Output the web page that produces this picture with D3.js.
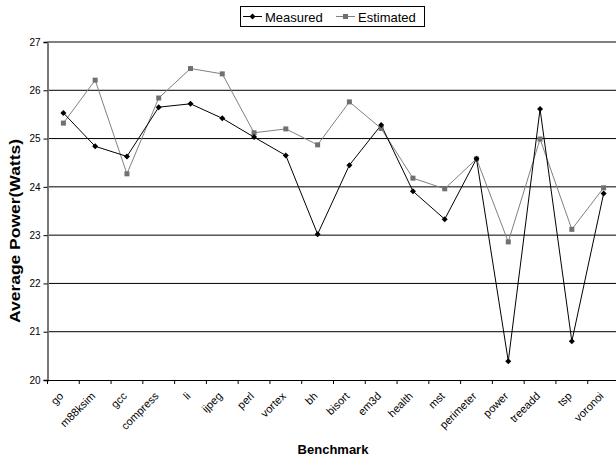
<!DOCTYPE html>
<html><head><meta charset="utf-8">
<script src="https://cdn.jsdelivr.net/npm/d3@7/dist/d3.min.js"></script>
<style>body{margin:0;background:#fff}svg{display:block}text{font-family:Arial,"Liberation Sans",sans-serif}</style>
</head><body><svg id="c" width="616" height="457"></svg>
<script>
const categories = ["go","m88ksim","gcc","compress","li","ijpeg","perl","vortex","bh","bisort","em3d","health","mst","perimeter","power","treeadd","tsp","voronoi"];
const measured = [25.53,24.84,24.63,25.65,25.72,25.42,25.03,24.65,23.02,24.45,25.28,23.91,23.33,24.58,20.39,25.61,20.80,23.86];
const estimated = [25.32,26.21,24.27,25.84,26.45,26.34,25.12,25.20,24.87,25.76,25.21,24.18,23.96,24.58,22.86,24.99,23.12,23.98];
const yTicks = [20,21,22,23,24,25,26,27];

const svg = d3.select("#c");
const L = 47.5, R = 619.5, T = 42, B = 380;
const x = d3.scaleBand().domain(categories).range([L, R]);
const y = d3.scaleLinear().domain([20, 27]).range([B, T]);
const cx = d => x(d) + x.bandwidth() / 2;

// gridlines
svg.append("g").selectAll("line").data(yTicks.filter(t => t > 20)).join("line")
  .attr("x1", L).attr("x2", R).attr("y1", d => y(d)).attr("y2", d => y(d))
  .attr("stroke", "#000").attr("stroke-width", 1);

// y axis
const ya = svg.append("g").attr("transform", `translate(${L},0)`)
  .call(d3.axisLeft(y).tickValues(yTicks).tickSize(4).tickPadding(3).tickFormat(d3.format("d")));
ya.select(".domain").attr("stroke", "#777").attr("stroke-width", 2);
ya.selectAll(".tick line").attr("stroke", "#000");
ya.selectAll("text").attr("font-size", 10).attr("font-family", "Arial").attr("fill", "#000");

// x axis
const xa = svg.append("g").attr("transform", `translate(0,${B})`)
  .call(d3.axisBottom(x).tickSize(0).tickFormat(""));
xa.select(".domain").attr("stroke", "#000").attr("stroke-width", 1);
svg.append("g").selectAll("line").data(categories).join("line")
  .attr("x1", d => x(d)).attr("x2", d => x(d)).attr("y1", B).attr("y2", B + 4)
  .attr("stroke", "#000");
svg.append("g").selectAll("text").data(categories).join("text")
  .attr("transform", d => `translate(${cx(d) - 2},${B + 14}) rotate(-45)`)
  .attr("text-anchor", "end").attr("dy", "0.35em")
  .attr("font-size", 11).text(d => d);

// lines
const line = vals => d3.line().x((d, i) => cx(categories[i])).y(d => y(d))(vals);
svg.append("path").attr("d", line(estimated)).attr("fill", "none").attr("stroke", "#808080").attr("stroke-width", 1);
svg.append("path").attr("d", line(measured)).attr("fill", "none").attr("stroke", "#000").attr("stroke-width", 1);

// markers
svg.append("g").selectAll("rect").data(estimated).join("rect")
  .attr("x", (d, i) => cx(categories[i]) - 2.5).attr("y", d => y(d) - 2.5)
  .attr("width", 5).attr("height", 5).attr("fill", "#707070");
svg.append("g").selectAll("path").data(measured).join("path")
  .attr("transform", (d, i) => `translate(${cx(categories[i])},${y(d)})`)
  .attr("d", "M0,-3L3,0L0,3L-3,0Z").attr("fill", "#000");

// axis titles
svg.append("text").attr("x", 333).attr("y", 454).attr("text-anchor", "middle")
  .attr("font-size", 13).attr("font-weight", "bold").text("Benchmark");
svg.append("text").attr("transform", "translate(20,231) rotate(-90)").attr("text-anchor", "middle")
  .attr("font-size", 14).attr("font-weight", "bold")
  .attr("textLength", 184).attr("lengthAdjust", "spacingAndGlyphs").text("Average Power(Watts)");

// legend
const lg = svg.append("g");
lg.append("rect").attr("x", 240.5).attr("y", 6.5).attr("width", 184).attr("height", 20)
  .attr("fill", "#fff").attr("stroke", "#000");
lg.append("line").attr("x1", 243).attr("x2", 262).attr("y1", 16.5).attr("y2", 16.5).attr("stroke", "#000");
lg.append("path").attr("transform", "translate(252.5,16.5)").attr("d", "M0,-3L3,0L0,3L-3,0Z").attr("fill", "#000");
lg.append("text").attr("x", 265).attr("y", 21.5).attr("font-size", 13).text("Measured");
lg.append("line").attr("x1", 336).attr("x2", 355).attr("y1", 16.5).attr("y2", 16.5).attr("stroke", "#808080");
lg.append("rect").attr("x", 343).attr("y", 14).attr("width", 5).attr("height", 5).attr("fill", "#707070");
lg.append("text").attr("x", 358).attr("y", 21.5).attr("font-size", 13).text("Estimated");
</script></body></html>
